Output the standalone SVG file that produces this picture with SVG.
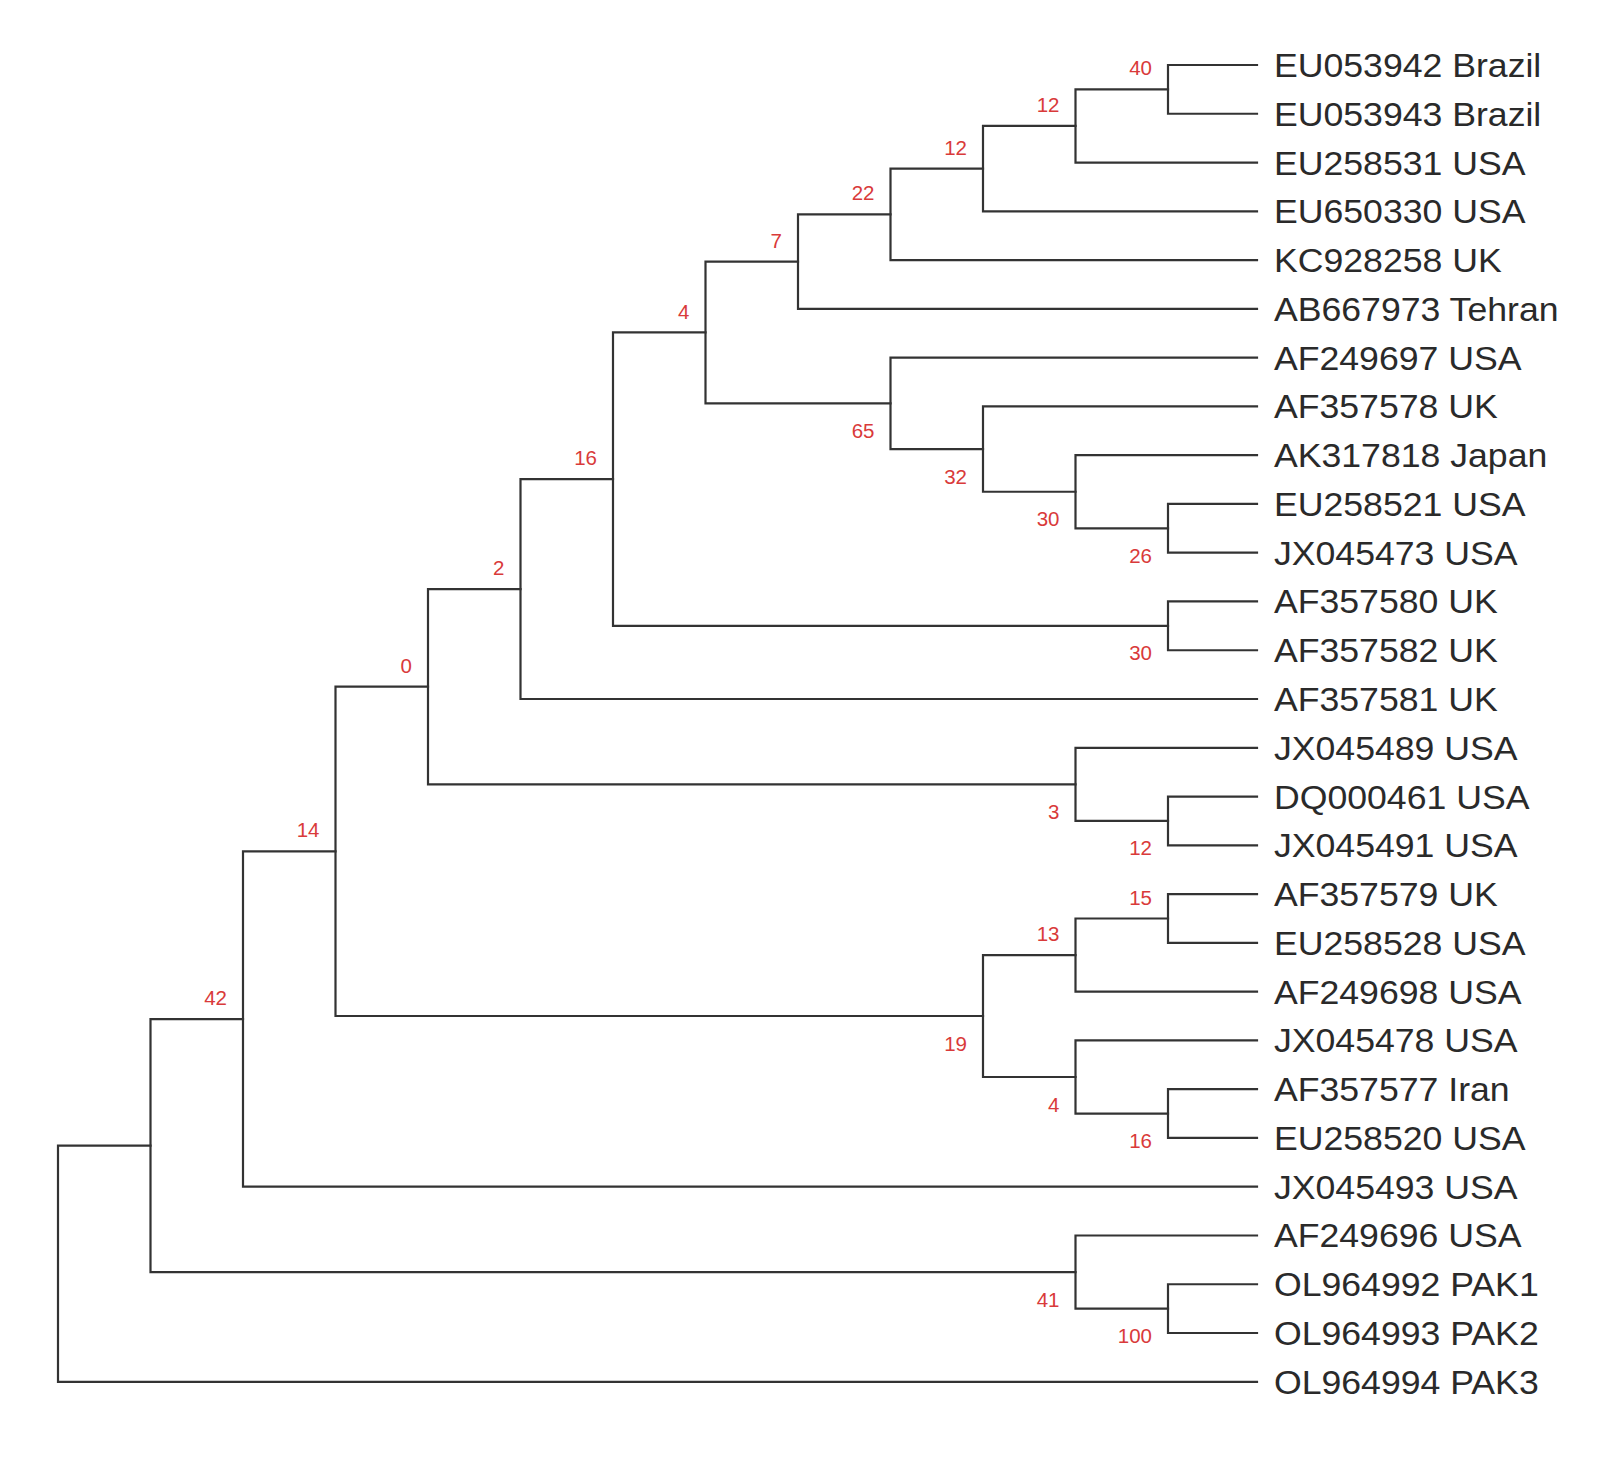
<svg xmlns="http://www.w3.org/2000/svg" width="1602" height="1458" viewBox="0 0 1602 1458">
<style>
.br{fill:none;stroke:#333;stroke-width:2.2;stroke-linecap:square}
.lf{font-family:"Liberation Sans",Arial,sans-serif;font-size:33px;fill:#2a2a2a}
.bs{font-family:"Liberation Sans",Arial,sans-serif;font-size:20.5px;fill:#d93a3a;text-anchor:end}
</style>
<rect width="1602" height="1458" fill="#ffffff"/>
<g id="connectors">
<path class="br" d="M150.5 1145.55H58V1381.79H1257"/>
<path class="br" d="M243 1019.04H150.5V1272.06H1075.5"/>
<path class="br" d="M335.5 851.37H243V1186.71H1257"/>
<path class="br" d="M428 686.72H335.5V1016.02H983"/>
<path class="br" d="M520.5 589.08H428V784.36H1075.5"/>
<path class="br" d="M613 479.17H520.5V699.01H1257"/>
<path class="br" d="M705.5 332.47H613V625.86H1168"/>
<path class="br" d="M798 261.6H705.5V403.34H890.5"/>
<path class="br" d="M890.5 214.36H798V308.85H1257"/>
<path class="br" d="M983 168.64H890.5V260.08H1257"/>
<path class="br" d="M1075.5 125.96H983V211.31H1257"/>
<path class="br" d="M1168 89.39H1075.5V162.54H1257"/>
<path class="br" d="M1257 65H1168V113.77H1257"/>
<path class="br" d="M1257 357.62H890.5V449.06H983"/>
<path class="br" d="M1257 406.39H983V491.74H1075.5"/>
<path class="br" d="M1257 455.16H1075.5V528.32H1168"/>
<path class="br" d="M1257 503.93H1168V552.7H1257"/>
<path class="br" d="M1257 601.47H1168V650.24H1257"/>
<path class="br" d="M1257 747.78H1075.5V820.94H1168"/>
<path class="br" d="M1257 796.55H1168V845.32H1257"/>
<path class="br" d="M1075.5 955.05H983V1076.98H1075.5"/>
<path class="br" d="M1168 918.48H1075.5V991.63H1257"/>
<path class="br" d="M1257 894.09H1168V942.86H1257"/>
<path class="br" d="M1257 1040.4H1075.5V1113.56H1168"/>
<path class="br" d="M1257 1089.17H1168V1137.94H1257"/>
<path class="br" d="M1257 1235.48H1075.5V1308.64H1168"/>
<path class="br" d="M1257 1284.25H1168V1333.02H1257"/>
</g>
<g id="bootstrap">
<text class="bs" x="227" y="1005">42</text>
<text class="bs" x="319.5" y="837.4">14</text>
<text class="bs" x="412" y="672.7">0</text>
<text class="bs" x="504.5" y="575.1">2</text>
<text class="bs" x="597" y="465.2">16</text>
<text class="bs" x="689.5" y="318.5">4</text>
<text class="bs" x="782" y="247.6">7</text>
<text class="bs" x="874.5" y="200.4">22</text>
<text class="bs" x="967" y="154.6">12</text>
<text class="bs" x="1059.5" y="112">12</text>
<text class="bs" x="1152" y="75.4">40</text>
<text class="bs" x="1059.5" y="941">13</text>
<text class="bs" x="1152" y="904.5">15</text>
<text class="bs" x="874.5" y="437.8">65</text>
<text class="bs" x="967" y="483.6">32</text>
<text class="bs" x="1059.5" y="526.2">30</text>
<text class="bs" x="1152" y="562.8">26</text>
<text class="bs" x="1152" y="660.4">30</text>
<text class="bs" x="1059.5" y="818.9">3</text>
<text class="bs" x="1152" y="855.4">12</text>
<text class="bs" x="967" y="1050.5">19</text>
<text class="bs" x="1059.5" y="1111.5">4</text>
<text class="bs" x="1152" y="1148">16</text>
<text class="bs" x="1059.5" y="1306.6">41</text>
<text class="bs" x="1152" y="1343.1">100</text>
</g>
<g id="leaves" transform="scale(1.08 1)">
<g id="leaf0"><text class="lf" x="1179.6" y="77">EU053942 Brazil</text></g>
<g id="leaf1"><text class="lf" x="1179.6" y="125.77">EU053943 Brazil</text></g>
<g id="leaf2"><text class="lf" x="1179.6" y="174.54">EU258531 USA</text></g>
<g id="leaf3"><text class="lf" x="1179.6" y="223.31">EU650330 USA</text></g>
<g id="leaf4"><text class="lf" x="1179.6" y="272.08">KC928258 UK</text></g>
<g id="leaf5"><text class="lf" x="1179.6" y="320.85">AB667973 Tehran</text></g>
<g id="leaf6"><text class="lf" x="1179.6" y="369.62">AF249697 USA</text></g>
<g id="leaf7"><text class="lf" x="1179.6" y="418.39">AF357578 UK</text></g>
<g id="leaf8"><text class="lf" x="1179.6" y="467.16">AK317818 Japan</text></g>
<g id="leaf9"><text class="lf" x="1179.6" y="515.93">EU258521 USA</text></g>
<g id="leaf10"><text class="lf" x="1179.6" y="564.7">JX045473 USA</text></g>
<g id="leaf11"><text class="lf" x="1179.6" y="613.47">AF357580 UK</text></g>
<g id="leaf12"><text class="lf" x="1179.6" y="662.24">AF357582 UK</text></g>
<g id="leaf13"><text class="lf" x="1179.6" y="711.01">AF357581 UK</text></g>
<g id="leaf14"><text class="lf" x="1179.6" y="759.78">JX045489 USA</text></g>
<g id="leaf15"><text class="lf" x="1179.6" y="808.55">DQ000461 USA</text></g>
<g id="leaf16"><text class="lf" x="1179.6" y="857.32">JX045491 USA</text></g>
<g id="leaf17"><text class="lf" x="1179.6" y="906.09">AF357579 UK</text></g>
<g id="leaf18"><text class="lf" x="1179.6" y="954.86">EU258528 USA</text></g>
<g id="leaf19"><text class="lf" x="1179.6" y="1003.63">AF249698 USA</text></g>
<g id="leaf20"><text class="lf" x="1179.6" y="1052.4">JX045478 USA</text></g>
<g id="leaf21"><text class="lf" x="1179.6" y="1101.17">AF357577 Iran</text></g>
<g id="leaf22"><text class="lf" x="1179.6" y="1149.94">EU258520 USA</text></g>
<g id="leaf23"><text class="lf" x="1179.6" y="1198.71">JX045493 USA</text></g>
<g id="leaf24"><text class="lf" x="1179.6" y="1247.48">AF249696 USA</text></g>
<g id="leaf25"><text class="lf" x="1179.6" y="1296.25">OL964992 PAK1</text></g>
<g id="leaf26"><text class="lf" x="1179.6" y="1345.02">OL964993 PAK2</text></g>
<g id="leaf27"><text class="lf" x="1179.6" y="1393.79">OL964994 PAK3</text></g>
</g>
</svg>
